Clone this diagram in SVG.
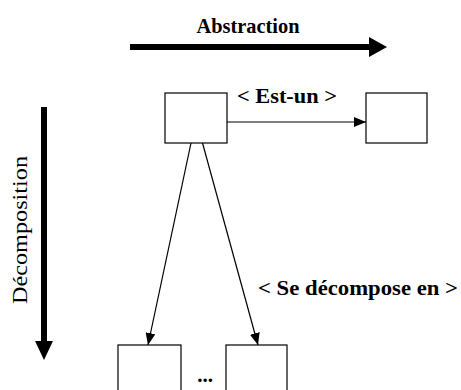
<svg xmlns="http://www.w3.org/2000/svg" width="461" height="390" viewBox="0 0 461 390">
  <style>
    .box { fill: #fff; stroke: #000; stroke-width: 1.2; }
    .lbl { font-family: "Liberation Serif", "Times New Roman", serif; font-weight: bold; font-size: 21px; fill: #000; }
    .axis { font-family: "Liberation Serif", "Times New Roman", serif; font-size: 22px; fill: #000; }
    .link { stroke: #000; stroke-width: 1.2; fill: none; marker-end: url(#tip); }
  </style>
  <defs>
    <marker id="tip" viewBox="0 0 12 10" refX="12" refY="5" markerWidth="12" markerHeight="10" markerUnits="userSpaceOnUse" orient="auto">
      <path d="M0,0 L12,5 L0,10 Z" fill="#000"/>
    </marker>
  </defs>
  <rect width="461" height="390" fill="#fff"/>

  <!-- axis: abstraction (left to right) -->
  <g id="axis-abstraction">
    <rect x="130" y="44" width="241" height="6" fill="#000"/>
    <polygon points="369,37 387,47 369,57" fill="#000"/>
    <text class="lbl" x="248" y="33" text-anchor="middle" textLength="103" lengthAdjust="spacingAndGlyphs">Abstraction</text>
  </g>

  <!-- axis: decomposition (top to bottom) -->
  <g id="axis-decomposition">
    <rect x="41" y="107" width="6" height="236" fill="#000"/>
    <polygon points="35,341 53,341 44,360" fill="#000"/>
    <text class="axis" transform="translate(27,230) rotate(-90)" text-anchor="middle" textLength="148" lengthAdjust="spacingAndGlyphs">Décomposition</text>
  </g>

  <!-- connectors -->
  <g id="connectors">
    <line class="link" x1="227" y1="122" x2="366" y2="122"/>
    <line class="link" x1="191" y1="143" x2="148" y2="345"/>
    <line class="link" x1="202.5" y1="143" x2="258" y2="345"/>
    <text class="lbl" x="237" y="103" textLength="100" lengthAdjust="spacingAndGlyphs">&lt; Est-un &gt;</text>
    <text class="lbl" x="258" y="295" textLength="200" lengthAdjust="spacingAndGlyphs">&lt; Se décompose en &gt;</text>
  </g>

  <!-- nodes -->
  <g id="node-parent"><rect class="box" x="165" y="93" width="62" height="50"/></g>
  <g id="node-generic"><rect class="box" x="366" y="93" width="61" height="50"/></g>
  <g id="node-part-1"><rect class="box" x="118" y="345" width="63" height="60"/></g>
  <g id="node-part-n"><rect class="box" x="226" y="345" width="61" height="60"/></g>
  <text class="lbl" x="205" y="382" text-anchor="middle">...</text>
</svg>
